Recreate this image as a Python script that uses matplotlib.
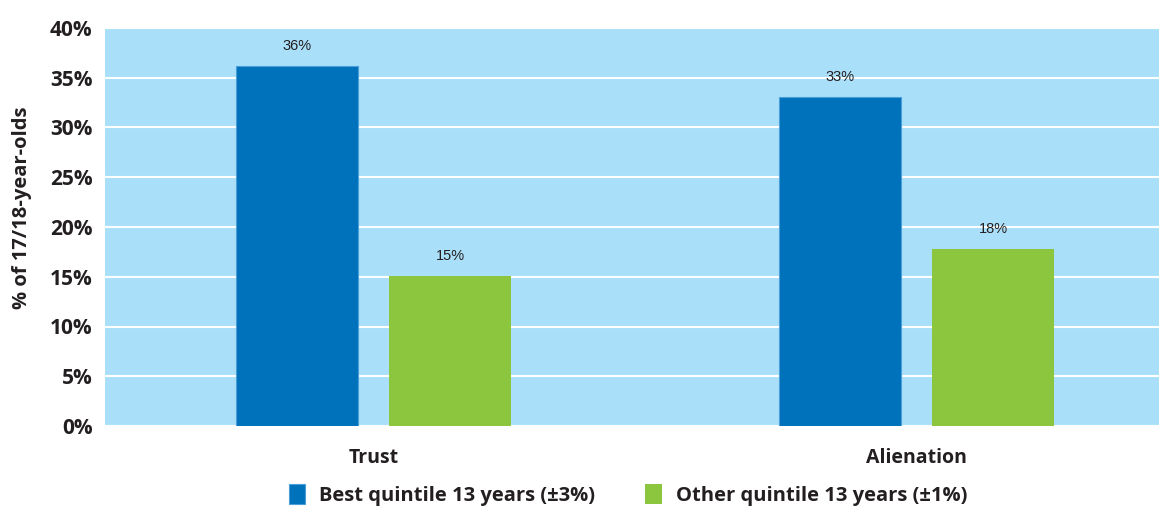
import numpy as np
import matplotlib.pyplot as plt

# data
categories = ['Trust', 'Alienation']
best_vals = [36.2, 33.1]
other_vals = [15.1, 17.8]
best_labels = ['36%', '33%']
other_labels = ['15%', '18%']
series_names = ['Best quintile 13 years (\u00b13%)', 'Other quintile 13 years (\u00b11%)']

plt.rcParams['font.family'] = ['Open Sans', 'DejaVu Sans']
txt = '#231F20'

fig = plt.figure(figsize=(11.59, 5.07), dpi=100)
ax = fig.add_axes([105 / 1159, 1 - 426 / 507, 1054 / 1159, 398 / 507])
ax.set_facecolor('#AADFF9')

x = np.arange(len(categories)) * 1.0
w = 0.225
off = 0.141
b1 = ax.bar(x - off, best_vals, w, color='#0071BB', edgecolor='#4A9FD8', linewidth=0.8, zorder=3)
b2 = ax.bar(x + off, other_vals, w, color='#8CC63F', zorder=3)

for bars, labs in ((b1, best_labels), (b2, other_labels)):
    for r, lab in zip(bars, labs):
        ax.text(r.get_x() + r.get_width() / 2, r.get_height() + 1.3, lab,
                ha='center', va='bottom', fontsize=10.5, color=txt, family='Liberation Sans')

ax.set_xlim(-0.4945, 1.4466)
ax.set_ylim(0, 40)
ax.set_yticks(np.arange(0, 41, 5))
ax.set_yticklabels([f'{v}%' for v in range(0, 41, 5)], fontsize=15, fontweight='bold', color=txt)
ax.set_xticks(x)
ax.set_xticklabels(categories, fontsize=14, fontweight='bold', color=txt)
ax.tick_params(length=0)
ax.tick_params(axis='x', pad=16)
ax.tick_params(axis='y', pad=9)
ax.yaxis.grid(True, color='white', linewidth=1.5, zorder=1)
ax.set_axisbelow(True)
for s in ax.spines.values():
    s.set_visible(False)

ax.set_ylabel('% of 17/18-year-olds', fontsize=14.5, fontweight='bold', color=txt)
ax.yaxis.set_label_coords(-0.069, 0.548)

leg = fig.legend([b1, b2], series_names, loc='center', bbox_to_anchor=(628 / 1159, 1 - 495 / 507),
                 ncol=2, frameon=False, handlelength=0.8, handleheight=1.1, columnspacing=2.5,
                 handletextpad=0.7, prop={'size': 14.5, 'weight': 'bold'})
for t in leg.get_texts():
    t.set_color(txt)

fig.savefig('out.png', dpi=100)
